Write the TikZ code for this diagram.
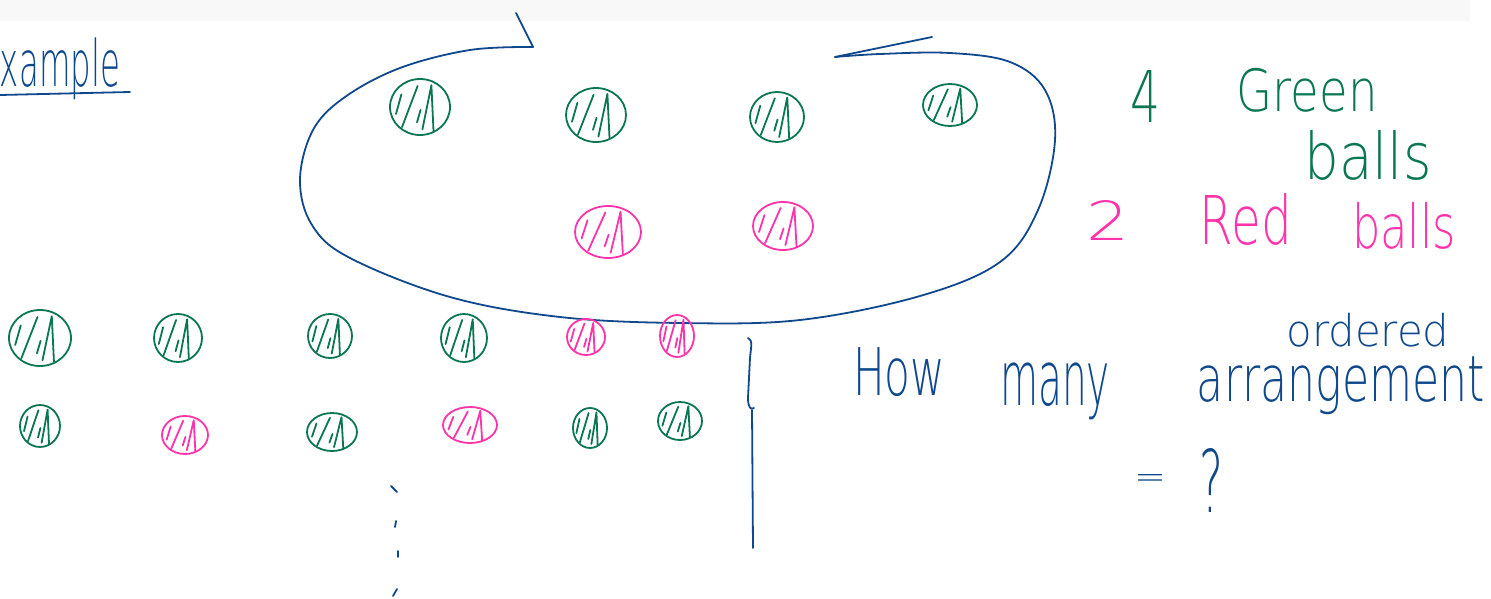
\documentclass[tikz,border=0pt]{standalone}
\usepackage{fontspec}
\newfontfamily\hand{DejaVu Sans ExtraLight}
\usetikzlibrary{shapes.geometric}
\definecolor{ink}{RGB}{16,72,140}
\definecolor{grn}{RGB}{10,118,82}
\definecolor{pnk}{RGB}{255,51,170}
\definecolor{band}{RGB}{248,248,248}
\tikzset{
  pen/.style={line width=1.8pt, line cap=round, line join=round},
  ballshape/.style={ellipse, draw, pen, inner sep=0pt, outer sep=0pt},
  word/.style={inner sep=0pt, outer sep=0pt, font=\hand},
}
\newcommand\fw[3]{\resizebox*{#1pt}{#2pt}{#3}}
% name, x, y, rx, ry, colour
\newcommand\hball[6]{%
  \node[ballshape, draw=#6, minimum width={2*#4pt}, minimum height={2*#5pt}] (#1) at (#2,#3) {};
  \begin{scope}[shift={(#1.center)}, x=#4pt, y=-#5pt]
    \draw[pen, #6] (-0.8,0.25) -- (-0.62,-0.45)
      (-0.6,0.72) -- (-0.08,-0.75)
      (-0.1,0.55) -- (0.02,0.1)
      (0.08,0.8) -- (0.38,-0.78) -- (0.45,0.85);
  \end{scope}}
\begin{document}
\begin{tikzpicture}[x=1pt, y=-1pt]
\useasboundingbox (0,0) rectangle (1491,599);
\fill[band] (0,0) rectangle (1470,21);

% heading
\node[word, text=ink] (xample) at (60,69) {\fw{120}{62}{xample}};
\coordinate (ul1) at (0,95);
\coordinate (ul2) at (130,92);
\draw[pen, ink] (ul1) -- (ul2);

% loop
\coordinate (lp1) at (533,47);
\coordinate (lp2) at (835,57);
\coordinate (tk1) at (516,13);
\coordinate (tk2) at (932,37);
\draw[pen, ink] plot[smooth, tension=0.6] coordinates {(533,47) (470,50) (400,68) (345,97) (313,130) (300,180) (312,225) (350,258) (450,297) (560,317) (680,323) (800,320) (920,296) (1000,262) (1038,210) (1055,140) (1045,90) (1010,62) (950,53) (880,54) (835,57)};
\draw[pen, ink] (tk1) -- (lp1);
\draw[pen, ink] (lp2) -- (tk2);

% balls inside loop
\hball{a1}{420}{107}{30}{28}{grn}
\hball{a2}{596}{115}{30}{27}{grn}
\hball{a3}{777}{117}{27}{25}{grn}
\hball{a4}{950}{105}{27}{21}{grn}
\hball{a5}{608}{232}{33}{26}{pnk}
\hball{a6}{783}{226}{30}{24}{pnk}

% row 1
\hball{b1}{40}{338}{31}{28}{grn}
\hball{b2}{178}{338}{24}{24}{grn}
\hball{b3}{330}{336}{22}{22}{grn}
\hball{b4}{464}{338}{23}{24}{grn}
\hball{b5}{586}{337}{19}{18}{pnk}
\hball{b6}{677}{336}{17}{21}{pnk}

% row 2
\hball{c1}{40}{426}{20}{21}{grn}
\hball{c2}{185}{435}{23}{19}{pnk}
\hball{c3}{332}{432}{25}{19}{grn}
\hball{c4}{470}{425}{27}{18}{pnk}
\hball{c5}{590}{428}{17}{20}{grn}
\hball{c6}{680}{421}{22}{19}{grn}

% vertical dots
\draw[pen, ink] (391,486) -- (397,492);
\draw[pen, ink] (396,521) -- (395,527);
\draw[pen, ink] (398,551) -- (398,557);
\draw[pen, ink] (397,589) -- (393,596);

% brace
\coordinate (br1) at (748,338);
\coordinate (br2) at (754,408);
\coordinate (br3) at (753,548);
\draw[pen, ink] (br1) .. controls (753,340) and (751,347) .. (750,358) -- (748,398) .. controls (748,408) and (751,410) .. (br2);
\draw[pen, ink] (752,410) -- (br3);

% right texts
\node[word, text=grn] (four) at (1145,96) {\fw{30}{52}{4}};
\node[word, text=grn] (green) at (1307,90) {\fw{141}{44}{Green}};
\node[word, text=grn] (gballs) at (1368,155) {\fw{127}{50}{balls}};
\node[word, text=pnk] (two) at (1108,220) {\fw{43}{40}{2}};
\node[word, text=pnk] (red) at (1246,219) {\fw{92}{52}{Red}};
\node[word, text=pnk] (rballs) at (1404,226) {\fw{104}{47}{balls}};

\node[word, text=ink] (ordered) at (1368,330) {\fw{163}{34}{ordered}};
\node[word, text=ink] (how) at (899,372) {\fw{92}{49}{How}};
\node[word, text=ink] (many) at (1055,391) {\fw{110}{57}{many}};
\node[word, text=ink] (arr) at (1341,386) {\fw{288}{58}{arrangement}};
\node[word, text=ink] (eq) at (1150,481) {\fw{32}{14}{=}};
\node[word, text=ink] (qm) at (1211,480) {\fw{24}{64}{?}};
\end{tikzpicture}
\end{document}
